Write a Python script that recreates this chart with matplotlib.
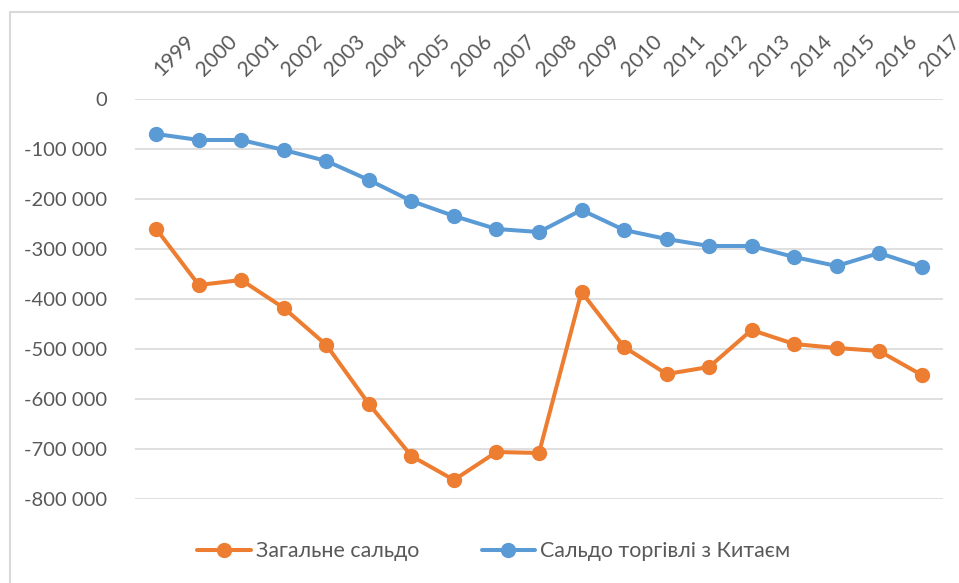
import matplotlib.pyplot as plt
from matplotlib.patches import Rectangle
from matplotlib.ticker import FuncFormatter
from matplotlib.transforms import ScaledTranslation

plt.rcParams['font.family'] = ['Lato', 'Noto Sans', 'DejaVu Sans']

years = [str(y) for y in range(1999, 2018)]
total_balance = [-260000, -372000, -362000, -418000, -492000, -610000, -714000,
                 -762000, -706000, -708000, -386000, -496000, -550000, -536000,
                 -462000, -490000, -498000, -504000, -552000]
china_balance = [-70000, -82000, -82000, -102000, -124000, -162000, -204000,
                 -234000, -260000, -266000, -222000, -262000, -280000, -294000,
                 -294000, -316000, -334000, -308000, -336000]
yticks = [0, -100000, -200000, -300000, -400000, -500000, -600000, -700000, -800000]

W, H = 959, 583
fig = plt.figure(figsize=(W / 100, H / 100), dpi=100)
ax = fig.add_axes([135 / W, 1 - 499 / H, (943 - 135) / W, 400 / H])

x = range(len(years))
l1, = ax.plot(x, total_balance, color='#ED7D31', lw=2.9, marker='o', ms=10,
              label='Загальне сальдо', solid_capstyle='round')
l2, = ax.plot(x, china_balance, color='#5B9BD5', lw=2.9, marker='o', ms=10,
              label='Сальдо торгівлі з Китаєм', solid_capstyle='round')

ax.set_xlim(-0.5, len(years) - 0.5)
ax.set_ylim(-800000, 0)
ax.set_yticks(yticks)
ax.yaxis.set_major_formatter(FuncFormatter(lambda v, p: f'{int(v):,}'.replace(',', ' ')))
ax.set_xticks(list(x))
ax.set_xticklabels(years, rotation=45, ha='left', va='bottom', rotation_mode='anchor')
ax.xaxis.tick_top()
ax.tick_params(axis='both', length=0, colors='#595959')
ax.tick_params(axis='x', pad=14, labelsize=15)
ax.tick_params(axis='y', pad=20, labelsize=14.5)
shift = ScaledTranslation(8 / 100, 0, fig.dpi_scale_trans)
for lab in ax.get_xticklabels():
    lab.set_transform(lab.get_transform() + shift)
ax.grid(axis='y', color='#D9D9D9', lw=1.2)
ax.set_axisbelow(True)
for s in ax.spines.values():
    s.set_visible(False)

leg = fig.legend(handles=[l1, l2], loc='center', bbox_to_anchor=(494 / W, 1 - 551 / H),
                 ncol=2, frameon=False, fontsize=15.4, handlelength=2.5,
                 columnspacing=2.9, handletextpad=0.25)
for t in leg.get_texts():
    t.set_color('#595959')

# light frame of the chart area
fig.add_artist(Rectangle((10 / W, -0.1), 1.2, 1 - 12 / H + 0.1, transform=fig.transFigure,
                         fill=False, edgecolor='#D9D9D9', lw=1.5))

fig.savefig('out.png', dpi=100)
